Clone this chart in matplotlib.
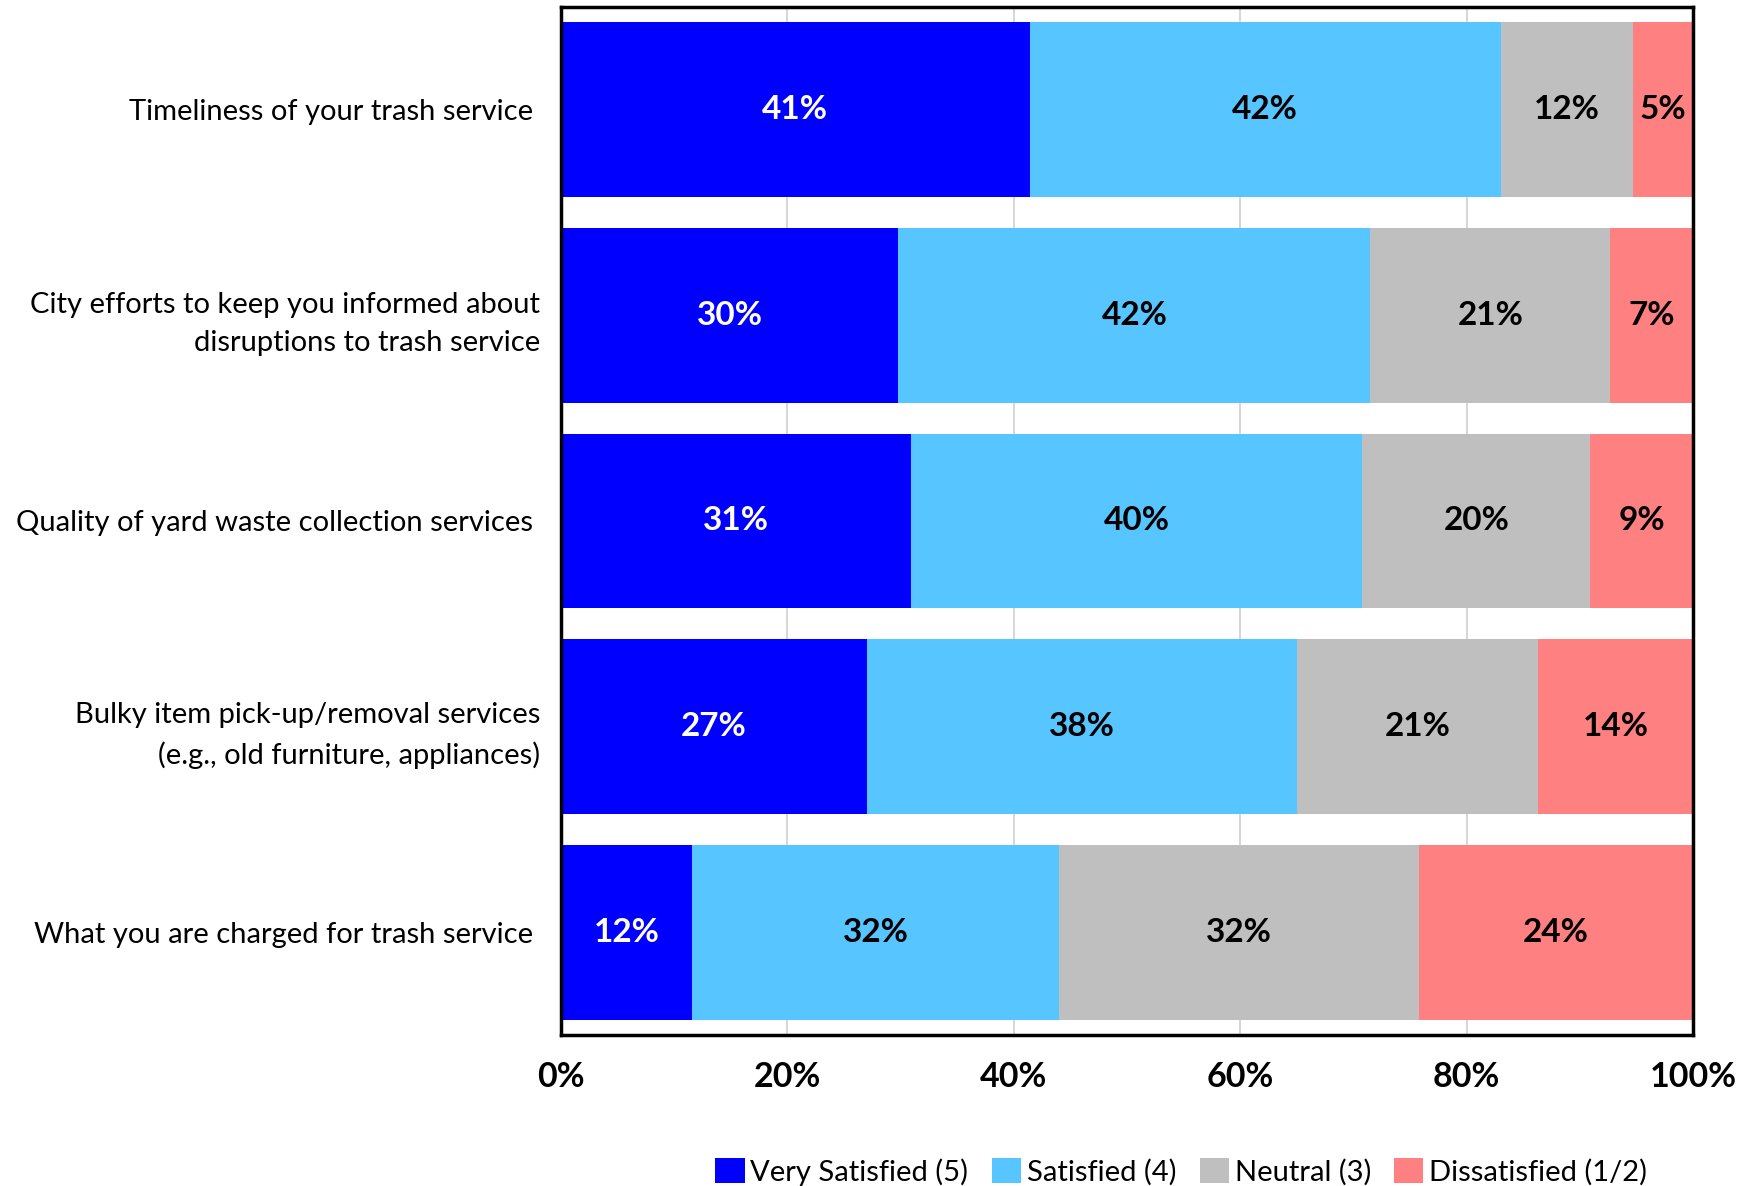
import matplotlib
matplotlib.use('Agg')
import matplotlib.pyplot as plt
import numpy as np

# survey items, top to bottom
items = ['Timeliness of your trash service ',
         'City efforts to keep you informed about\ndisruptions to trash service',
         'Quality of yard waste collection services ',
         'Bulky item pick-up/removal services\n(e.g., old furniture, appliances)',
         'What you are charged for trash service ']
series = ['Very Satisfied (5)', 'Satisfied (4)', 'Neutral (3)', 'Dissatisfied (1/2)']
very_satisfied = [41.4, 29.8, 30.9, 27.0, 11.6]
satisfied = [41.6, 41.7, 39.9, 38.0, 32.4]
neutral = [11.7, 21.2, 20.1, 21.3, 31.8]
dissatisfied = [5.3, 7.3, 9.1, 13.7, 24.2]
labels = [['41%', '42%', '12%', '5%'],
          ['30%', '42%', '21%', '7%'],
          ['31%', '40%', '20%', '9%'],
          ['27%', '38%', '21%', '14%'],
          ['12%', '32%', '32%', '24%']]
colors = ['#0000FF', '#57C5FF', '#BFBFBF', '#FF8080']
text_colors = ['white', 'black', 'black', 'black']

plt.rcParams['font.family'] = ['Lato', 'DejaVu Sans']

fig = plt.figure(figsize=(17.58, 11.86), dpi=100)
ax = fig.add_axes([561 / 1758, 1 - 1035 / 1186, (1693 - 561) / 1758, (1035 - 7) / 1186])

y = np.arange(len(items))
data = [very_satisfied, satisfied, neutral, dissatisfied]
left = np.zeros(len(items))
for i, vals in enumerate(data):
    vals = np.array(vals)
    ax.barh(y, vals, left=left, height=0.85, color=colors[i], label=series[i], zorder=2)
    for j in range(len(items)):
        ax.text(left[j] + vals[j] / 2, y[j], labels[j][i], ha='center', va='center',
                color=text_colors[i], fontsize=24, fontweight='bold', zorder=3)
    left += vals

ax.set_xlim(0, 100)
ax.set_ylim(len(items) - 0.5, -0.5)
ax.set_yticks(y)
ax.set_yticklabels(items, fontsize=21, linespacing=1.6)
ax.set_xticks(np.arange(0, 101, 20))
ax.set_xticklabels([f'{t}%' for t in range(0, 101, 20)], fontsize=24.5, fontweight='bold')
ax.tick_params(axis='both', length=0)
ax.tick_params(axis='x', pad=19)
ax.tick_params(axis='y', pad=15)
ax.grid(axis='x', color='#D0D0D0', linewidth=1.2, zorder=0)
for s in ax.spines.values():
    s.set_linewidth(2.5)
    s.set_color('black')

ax.legend(loc='center', bbox_to_anchor=(0.548, -0.133), ncol=4, frameon=False,
          fontsize=21, handlelength=1.0, handleheight=0.9, handletextpad=0.2,
          columnspacing=0.8)

fig.savefig('out.png', dpi=100)
